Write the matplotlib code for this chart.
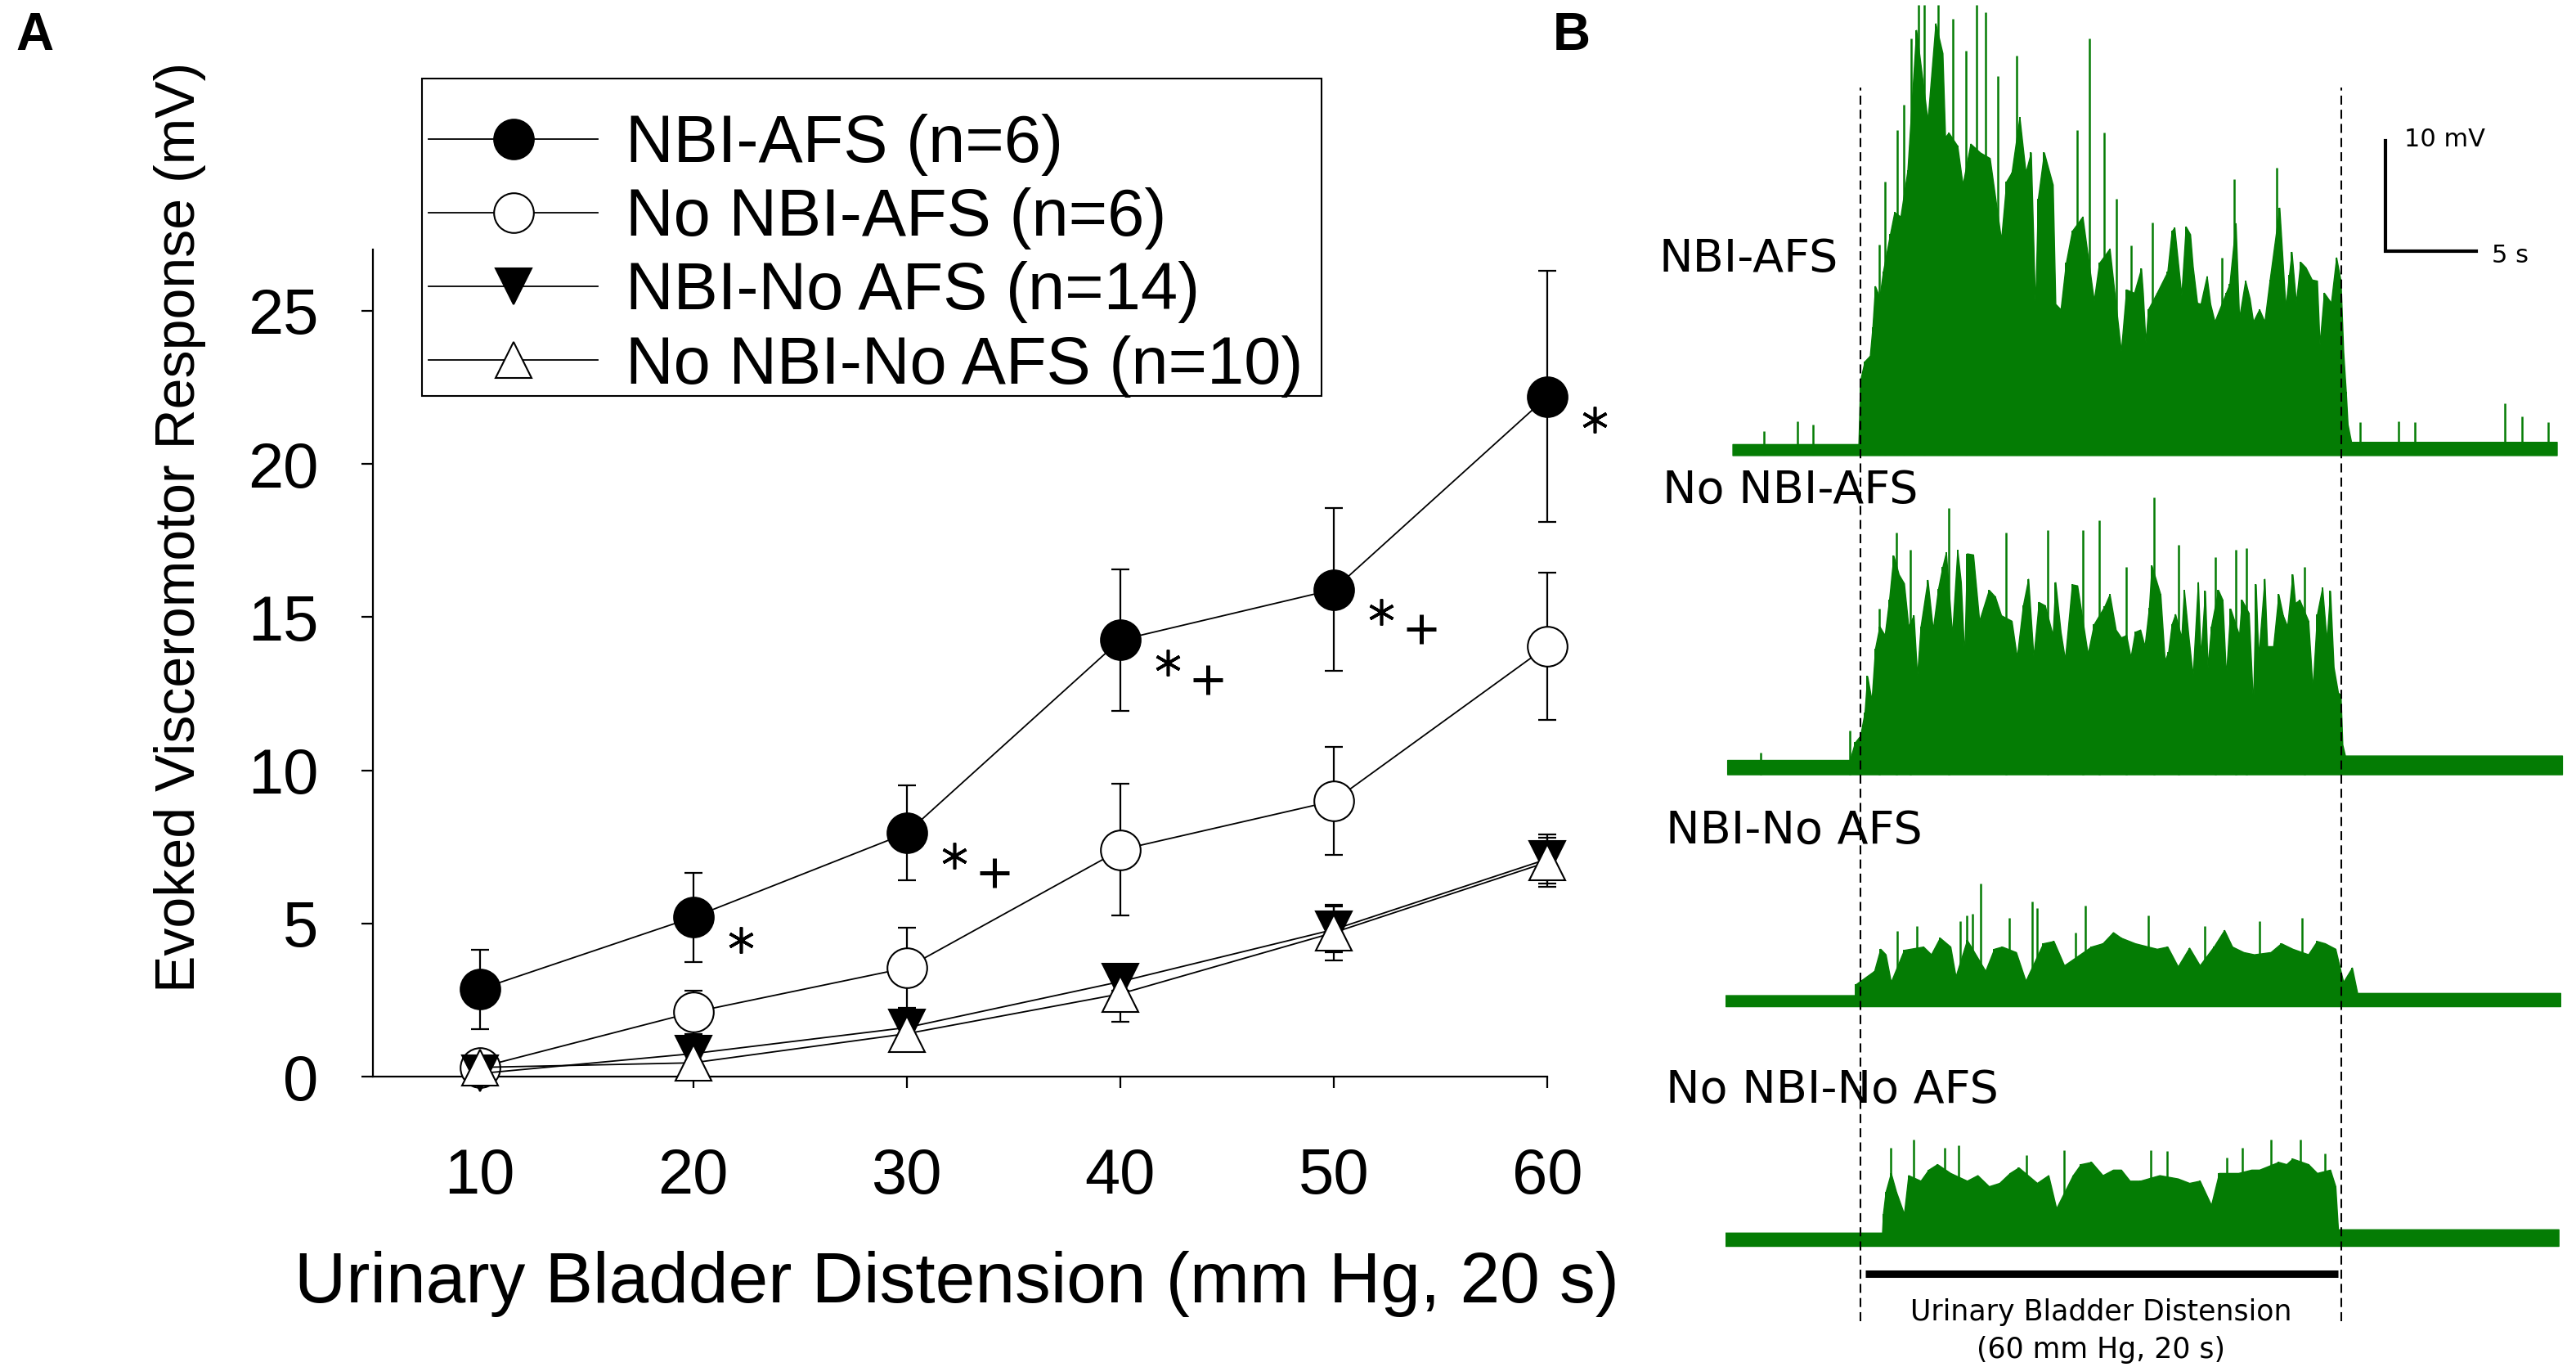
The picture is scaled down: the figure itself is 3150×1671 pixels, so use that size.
import matplotlib
matplotlib.use("Agg")
import matplotlib.pyplot as plt
import matplotlib.transforms as mtransforms
from matplotlib.patches import Rectangle

plt.rcParams["font.family"] = ["Liberation Sans", "DejaVu Sans"]

# ---------------- panel A: group means +/- SEM ----------------
distension = [10, 20, 30, 40, 50, 60]
groups = ["NBI-AFS (n=6)", "No NBI-AFS (n=6)", "NBI-No AFS (n=14)", "No NBI-No AFS (n=10)"]
nbi_afs = [2.85, 5.2, 7.95, 14.25, 15.9, 22.2]
nbi_afs_sem = [1.3, 1.45, 1.55, 2.3, 2.65, 4.1]
no_nbi_afs = [0.3, 2.1, 3.55, 7.4, 9.0, 14.05]
no_nbi_afs_sem = [0.25, 0.7, 1.3, 2.15, 1.75, 2.4]
nbi_no_afs = [0.1, 0.75, 1.6, 3.1, 4.8, 7.1]
nbi_no_afs_sem = [0.2, 0.25, 0.35, 0.3, 0.75, 0.8]
no_nbi_no_afs = [0.3, 0.45, 1.4, 2.7, 4.7, 7.0]
no_nbi_no_afs_sem = [0.3, 0.3, 0.5, 0.9, 0.9, 0.8]
# significance vs the other groups, for NBI-AFS
star = [False, True, True, True, True, True]
plus = [False, False, True, True, True, False]

# ---------------- panel B: EMG traces (s, mV) ----------------
trace_names = ["NBI-AFS", "No NBI-AFS", "NBI-No AFS", "No NBI-No AFS"]
stim_on, stim_off = 7.7, 35.2

t1 = [0.4, 7.6, 7.7, 7.95, 8.25, 8.4, 8.55, 8.8, 9.0, 9.4, 9.65, 10.0, 10.4, 10.9, 11.55, 12.0,
      12.4, 12.55, 12.75, 13.25, 13.55, 14.0, 14.55, 15.1, 15.75, 16.05, 16.35, 16.8, 17.15, 17.45,
      17.7, 17.85, 18.2, 18.7, 18.85, 19.15, 19.45, 19.8, 20.4, 21.05, 21.35, 21.95, 22.6, 22.9,
      23.35, 23.75, 23.85, 24.0, 24.15, 24.65, 25.25, 25.5, 25.65, 26.05, 26.3, 26.55, 26.7, 26.95,
      27.15, 27.5, 27.7, 27.95, 28.6, 28.8, 29.15, 29.35, 29.7, 29.95, 30.15, 30.5, 30.8, 31.1,
      31.65, 32.0, 32.2, 32.35, 32.6, 32.85, 33.15, 33.5, 33.8, 33.95, 34.2, 34.6, 34.9, 35.15,
      35.3, 35.45, 35.55, 35.75, 47.5]
v1 = [1.0, 1.0, 6.8, 8.5, 9.0, 11.6, 15.3, 14.3, 16.6, 20.0, 22.0, 21.6, 25.8, 38.5, 30.3, 39.1,
      36.4, 28.8, 29.2, 28.0, 24.5, 28.2, 27.4, 26.9, 19.5, 24.8, 25.6, 30.6, 25.6, 27.4,
      13.2, 23.2, 27.4, 24.5, 13.7, 13.2, 17.4, 20.3, 21.6, 14.0, 17.4, 18.7, 9.4, 15.0,
      14.7, 16.9, 14.7, 10.2, 13.2, 14.7, 16.6, 20.3, 20.6, 14.5, 20.7, 20.0, 17.1, 13.8,
      13.7, 16.2, 13.7, 12.1, 14.7, 15.5, 21.0, 12.4, 15.8, 14.2, 12.1, 13.2, 12.1, 15.9,
      22.4, 13.4, 16.3, 18.4, 13.8, 17.5, 17.0, 15.9, 15.8, 10.0, 14.7, 13.8, 17.9, 15.8,
      9.4, 5.7, 2.8, 1.2, 1.2]
s1t = [2.2, 4.1, 5.0, 8.8, 9.1, 9.8, 10.2, 10.6, 11.05, 11.35, 12.15, 13.0, 13.75, 14.35, 14.85,
       15.55, 16.65, 20.1, 20.8, 21.65, 22.35, 23.2, 24.4, 28.35, 29.05, 31.5, 36.25, 38.45, 39.4,
       44.55, 45.5, 47.0]
s1v = [2.2, 3.1, 2.8, 19.1, 24.8, 29.4, 31.7, 37.7, 40.8, 40.8, 40.8, 39.5, 36.6, 40.8, 40.1,
       34.3, 36.2, 29.4, 37.7, 29.2, 23.2, 19.0, 21.1, 17.9, 25.0, 26.0, 3.0, 3.1, 3.0,
       4.7, 3.5, 3.0]

t2 = [0.1, 7.1, 7.4, 7.7, 7.95, 8.1, 8.35, 8.55, 8.8, 9.1, 9.35, 9.6, 9.9, 10.2, 10.45, 10.75,
      10.95, 11.15, 11.55, 11.85, 12.15, 12.4, 12.6, 12.95, 13.25, 13.45, 13.65, 13.8, 14.15, 14.5,
      15.05, 15.4, 15.75, 16.35, 16.65, 17.0, 17.3, 17.6, 17.9, 18.25, 18.7, 18.85, 19.15, 19.4,
      19.8, 20.1, 20.7, 21.05, 21.65, 21.95, 22.3, 22.6, 22.9, 23.15, 23.4, 23.7, 23.95, 24.2,
      24.35, 24.85, 25.1, 25.3, 25.5, 25.7, 26.05, 26.2, 26.45, 26.7, 27.0, 27.15, 27.4, 27.55,
      27.75, 28.15, 28.4, 28.6, 28.85, 29.35, 29.5, 29.9, 30.15, 30.3, 30.45, 30.8, 30.95, 31.3,
      31.6, 31.85, 32.1, 32.4, 32.55, 32.8, 33.3, 33.55, 33.8, 34.1, 34.35, 34.55, 34.75, 35.0,
      35.15, 35.25, 35.4, 47.8]
v2 = [1.3, 1.3, 2.9, 3.5, 5.6, 8.9, 6.7, 11.4, 13.4, 12.6, 15.8, 19.8, 18.1, 17.3, 13.4, 14.4,
      8.9, 13.4, 17.6, 13.1, 16.8, 18.8, 20.1, 12.6, 20.3, 17.4, 10.6, 20.0, 19.9, 13.9,
      16.7, 16.1, 14.4, 13.9, 10.6, 15.3, 17.7, 10.6, 15.6, 15.3, 12.6, 17.4, 12.9, 10.4,
      17.2, 17.1, 10.9, 13.6, 15.2, 16.3, 13.1, 12.4, 12.6, 10.6, 12.9, 13.1, 11.6, 15.1,
      18.9, 16.3, 10.3, 11.1, 13.6, 14.5, 12.4, 16.7, 12.6, 8.9, 17.4, 10.6, 16.6, 9.7,
      13.4, 16.7, 15.8, 8.9, 15.0, 12.6, 15.8, 14.6, 6.2, 17.2, 10.6, 17.7, 11.6, 11.6,
      16.3, 14.4, 13.4, 18.1, 15.5, 15.8, 13.9, 7.7, 14.5, 16.9, 12.1, 16.6, 9.7, 7.4,
      7.2, 2.7, 1.7, 1.7]
s2t = [2.0, 7.1, 8.8, 9.75, 10.55, 12.75, 16.05, 18.4, 20.4, 21.35, 22.9, 24.5, 25.9, 28.0,
       29.15, 29.75, 33.1]
s2v = [2.0, 4.0, 15.0, 21.9, 20.3, 24.1, 21.9, 22.1, 22.1, 23.0, 18.8, 25.1, 20.8, 19.7,
       20.3, 20.5, 18.8]

t3 = [0.0, 7.4, 7.45, 8.5, 8.85, 9.15, 9.45, 10.2, 11.3, 11.75, 12.25, 12.85, 13.15, 13.8, 14.85,
      15.35, 15.8, 16.6, 17.15, 18.15, 18.75, 19.35, 20.9, 21.55, 22.15, 22.6, 23.4, 24.65, 25.25,
      25.85, 26.5, 27.1, 27.9, 28.5, 28.95, 29.6, 30.2, 31.15, 31.75, 32.4, 33.3, 33.8, 34.25,
      34.85, 35.3, 35.8, 36.1, 47.7]
v3 = [1.0, 1.0, 2.0, 3.2, 5.2, 4.7, 2.2, 5.1, 5.4, 4.7, 6.2, 5.4, 2.7, 6.0, 3.2,
      5.2, 5.4, 4.9, 2.3, 5.7, 5.9, 3.7, 5.4, 5.7, 6.7, 6.2, 5.7, 5.2, 5.4,
      3.6, 5.3, 3.7, 5.4, 6.9, 5.4, 4.9, 4.7, 4.9, 5.7, 5.2, 4.7, 5.9, 5.7,
      5.2, 2.2, 3.5, 1.2, 1.2]
s3t = [9.8, 10.95, 13.4, 13.8, 14.1, 14.6, 16.2, 17.5, 17.8, 20.0, 20.55, 24.15, 27.4, 30.5, 32.95]
s3v = [6.8, 7.3, 7.7, 8.2, 8.4, 11.1, 8.0, 9.5, 8.9, 6.7, 9.1, 8.2, 7.3, 7.7, 8.0]

t4 = [-0.15, 8.95, 9.0, 9.15, 9.45, 9.75, 10.2, 10.45, 11.15, 11.6, 12.1, 12.85, 13.8, 14.4, 15.05,
      15.65, 16.25, 16.75, 17.8, 18.45, 18.9, 19.85, 20.3, 20.9, 21.55, 22.15, 22.6, 23.1, 23.7,
      24.8, 25.85, 26.5, 27.1, 27.75, 28.2, 29.3, 30.05, 30.5, 31.6, 32.05, 32.4, 33.3, 33.8,
      34.55, 34.85, 35.0, 47.6]
v4 = [1.2, 1.2, 2.9, 4.9, 6.6, 4.9, 2.9, 6.4, 5.9, 6.9, 7.4, 6.6, 5.9, 6.4, 5.4,
      5.7, 6.6, 7.1, 5.7, 6.4, 3.4, 6.4, 7.4, 7.6, 6.4, 6.9, 6.9, 5.9, 5.9,
      6.4, 6.1, 5.7, 5.9, 3.7, 6.6, 6.6, 6.9, 6.9, 7.6, 7.4, 7.9, 7.4, 6.6,
      6.9, 5.4, 1.5, 1.5]
s4t = [9.45, 10.75, 12.5, 13.3, 17.2, 19.35, 24.3, 25.25, 28.65, 29.55, 31.15, 32.85, 34.25]
s4v = [8.9, 9.6, 8.9, 9.1, 8.2, 8.7, 8.7, 8.6, 8.0, 8.9, 9.6, 9.6, 8.4]

W, H = 3150, 1671
fig = plt.figure(figsize=(W / 100, H / 100), dpi=100)

# ---------------- panel A ----------------
ax = fig.add_axes([456 / W, 1 - 1316 / H, (1892 - 456) / W, (1316 - 305) / H])
means = [nbi_afs, no_nbi_afs, nbi_no_afs, no_nbi_no_afs]
sems = [nbi_afs_sem, no_nbi_afs_sem, nbi_no_afs_sem, no_nbi_no_afs_sem]
styles = [dict(marker="o", mfc="black", ms=35),
          dict(marker="o", mfc="white", ms=35),
          dict(marker="v", mfc="black", ms=31),
          dict(marker="^", mfc="white", ms=31)]

for i in range(4):
    eb = ax.errorbar(distension, means[i], yerr=sems[i], fmt="none", ecolor="black",
                     elinewidth=1.6, capsize=8, capthick=1.6, zorder=2)
    for a in eb.get_children():
        a.set_clip_on(False)
    ax.plot(distension, means[i], color="black", lw=1.3, mec="black", mew=1.5,
            label=groups[i], clip_on=False, zorder=3 + i, **styles[i])

star_off = mtransforms.ScaledTranslation(42 / 72, -20 / 72, fig.dpi_scale_trans)
plus_off = mtransforms.ScaledTranslation(77 / 72, -35 / 72, fig.dpi_scale_trans)
sx = [x for x, s in zip(distension, star) if s]
sy = [y for y, s in zip(nbi_afs, star) if s]
px = [x for x, s in zip(distension, plus) if s]
py = [y for y, s in zip(nbi_afs, plus) if s]
ax.plot(sx, sy, ls="none", marker=(6, 2, 0), ms=23, mew=2.6, color="black",
        transform=ax.transData + star_off, clip_on=False)
ax.plot(px, py, ls="none", marker="+", ms=26, mew=3.6, color="black",
        transform=ax.transData + plus_off, clip_on=False)

ax.set_xlim(5, 60)
ax.set_ylim(0, 27)
ax.set_xticks(distension)
ax.set_yticks([0, 5, 10, 15, 20, 25])
for side in ["top", "right"]:
    ax.spines[side].set_visible(False)
for side in ["left", "bottom"]:
    ax.spines[side].set_linewidth(1.6)
ax.tick_params(direction="out", length=10, width=1.6, labelsize=56)
ax.tick_params(axis="x", pad=52)
ax.tick_params(axis="y", pad=38)

fig.text(1170 / W, 1 - 1570 / H, "Urinary Bladder Distension (mm Hg, 20 s)",
         fontsize=63, ha="center", va="center")
fig.text(220 / W, 1 - 644 / H, "Evoked Visceromotor Response (mV)",
         fontsize=49, rotation=90, ha="center", va="center")

# legend box drawn by hand so its padding can match the original
fig.patches.append(Rectangle((516 / W, 1 - 484 / H), 1100 / W, 388 / H,
                             transform=fig.transFigure, fill=False, lw=1.5,
                             edgecolor="black"))
leg = ax.legend(loc="upper left", bbox_to_anchor=(524 / W, 1 - 139 / H),
                bbox_transform=fig.transFigure, borderaxespad=0, borderpad=0,
                fontsize=58.5, frameon=False, handlelength=2.55,
                handletextpad=0.42, labelspacing=0.175)

fig.text(42 / W, 1 - 44 / H, "A", fontsize=46, fontweight="bold", ha="center", va="center")
fig.text(1922 / W, 1 - 44 / H, "B", fontsize=46, fontweight="bold", ha="center", va="center")

# ---------------- panel B ----------------
px_s, px_mv = 21.4, 13.5          # pixels per second / per mV
axb = fig.add_axes([2110 / W, 0, (W - 2110) / W, 1])
axb.set_xlim(0, (W - 2110) / px_s)
axb.set_ylim(-(H - 1523) / px_mv, 1523 / px_mv)
axb.axis("off")

green = "#047c04"
offsets = [71.6, 42.7, 21.7, 0.0]
traces = [(t1, v1, s1t, s1v), (t2, v2, s2t, s2v), (t3, v3, s3t, s3v), (t4, v4, s4t, s4v)]
label_pos = [(-3.8, 89.3), (-3.6, 68.4), (-3.4, 37.6), (-3.4, 14.1)]
for (t, v, st, sv), off, name, (lx, ly) in zip(traces, offsets, trace_names, label_pos):
    axb.fill_between(t, off, [off + x for x in v], color=green, lw=1.0, edgecolor=green)
    axb.vlines(st, off, [off + x for x in sv], color=green, lw=1.8)
    axb.vlines(t[1:-1], off, [off + x for x in v[1:-1]], color=green, lw=1.4)
    axb.text(lx, ly, name, family="DejaVu Sans", fontsize=40, ha="left", va="center")

axb.vlines([stim_on, stim_off], -6.8, 104.9, color="black", lw=1.5,
           linestyles=(0, (5.3, 3)))
axb.plot([stim_on + 0.3, stim_off - 0.2], [-2.5, -2.5], color="black", lw=6.5,
         solid_capstyle="butt")
axb.text((stim_on + stim_off) / 2, -6.0, "Urinary Bladder Distension",
         family="DejaVu Sans", fontsize=25, ha="center", va="center")
axb.text((stim_on + stim_off) / 2, -9.4, "(60 mm Hg, 20 s)",
         family="DejaVu Sans", fontsize=25, ha="center", va="center")

# scale bars: 10 mV, 5 s
axb.plot([37.7, 37.7, 42.9], [100.1, 90.1, 90.1], color="black", lw=3,
         solid_joinstyle="miter")
axb.text(38.8, 100.2, "10 mV", family="DejaVu Sans", fontsize=22, ha="left", va="center")
axb.text(43.8, 89.7, "5 s", family="DejaVu Sans", fontsize=22, ha="left", va="center")

fig.savefig("out.png", dpi=100)
